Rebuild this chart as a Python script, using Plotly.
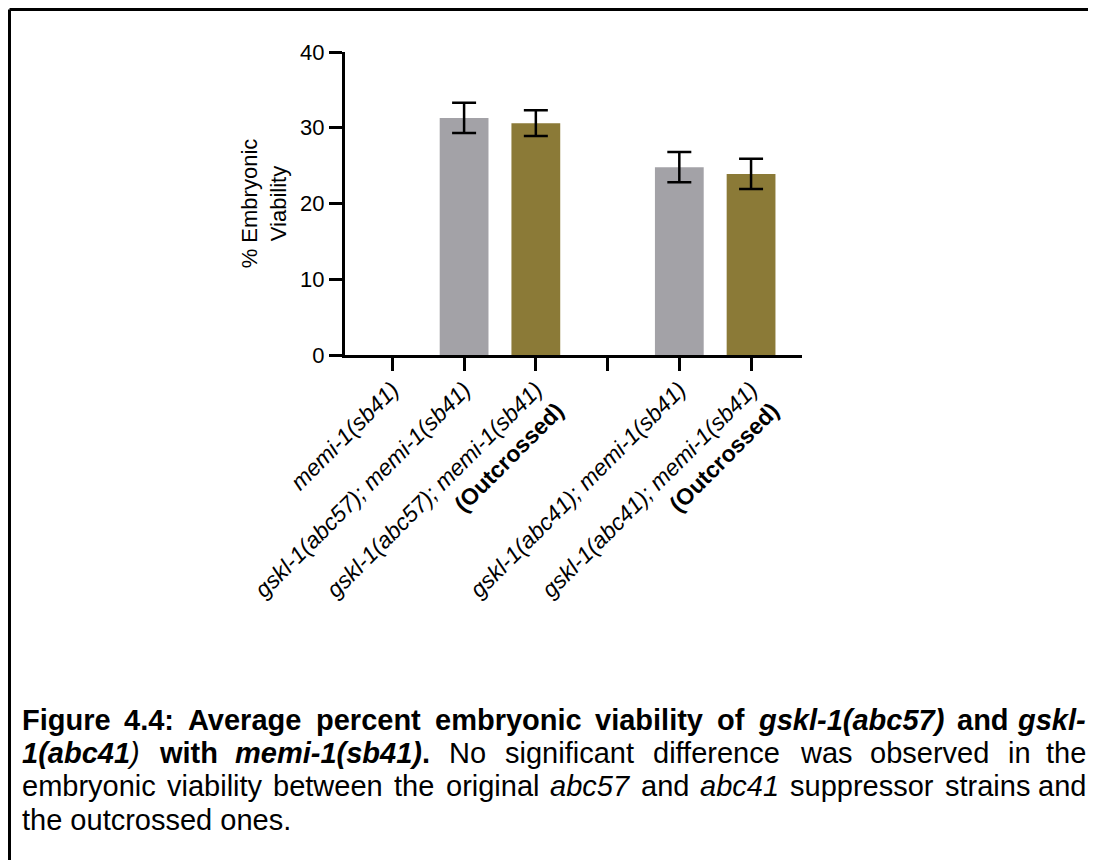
import plotly.graph_objects as go

# ---- data ----
categories = [
    "<i>memi-1(sb41)</i>",
    "<i>gskl-1(abc57); memi-1(sb41)</i>",
    "<i>gskl-1(abc57); memi-1(sb41)</i><br><b>(Outcrossed)</b>",
    "",
    "<i>gskl-1(abc41); memi-1(sb41)</i>",
    "<i>gskl-1(abc41); memi-1(sb41)</i><br><b>(Outcrossed)</b>",
]
positions = [0, 1, 2, 3, 4, 5]
viability = [0, 31.3, 30.6, None, 24.8, 23.9]
errors = [None, 2.0, 1.7, None, 2.0, 2.0]
bar_colors = ["#A3A2A7", "#A3A2A7", "#8B7A37", "#A3A2A7", "#A3A2A7", "#8B7A37"]
y_ticks = [0, 10, 20, 30, 40]

FONT = "Liberation Sans, Arial, sans-serif"

# page is drawn with an 8px body margin
W, H = 1088, 852
L, R, T, B = 337, 294, 44, 505
pw, ph = W - L - R, H - T - B


def px(x):
    return (x - L) / pw


def py(y):
    return (H - B - y) / ph


fig = go.Figure()
fig.add_trace(go.Bar(
    x=positions, y=viability, width=0.68,
    marker=dict(color=bar_colors, line=dict(width=0)),
    showlegend=False, hoverinfo="skip",
))
# error bars only where there is error data
eb_x = [p for p, e in zip(positions, errors) if e is not None]
eb_y = [v for v, e in zip(viability, errors) if e is not None]
eb_e = [e for e in errors if e is not None]
fig.add_trace(go.Scatter(
    x=eb_x, y=eb_y, mode="markers", marker=dict(size=1, color="rgba(0,0,0,0)"),
    error_y=dict(type="data", array=eb_e, visible=True, color="black", thickness=2.5, width=12),
    showlegend=False,
))

fig.update_layout(
    width=W, height=H,
    margin=dict(l=L, r=R, t=T, b=B, pad=0),
    paper_bgcolor="white", plot_bgcolor="white",
    font=dict(family=FONT, color="black"),
    xaxis=dict(
        range=[-0.66, 5.71], tickmode="array", tickvals=positions, ticktext=categories,
        tickangle=-45, ticks="outside", ticklen=13, tickwidth=3, tickcolor="black",
        showline=True, linewidth=3, linecolor="black", showgrid=False, zeroline=False,
        tickfont=dict(family=FONT, size=23, color="black"), ticklabelstandoff=-4,
    ),
    yaxis=dict(
        range=[0, 40], tickmode="array", tickvals=y_ticks,
        ticks="outside", ticklen=13, tickwidth=3, tickcolor="black",
        showline=True, linewidth=3, linecolor="black", showgrid=False, zeroline=False,
        tickfont=dict(family=FONT, size=22, color="black"),
        title=dict(text="% Embryonic<br>Viability", font=dict(family=FONT, size=22, color="black"),
                   standoff=8),
    ),
)

# frame (top and left)
fig.add_shape(type="line", xref="paper", yref="paper", x0=px(1.5), x1=px(W), y0=py(1.5), y1=py(1.5),
              line=dict(color="black", width=3))
fig.add_shape(type="line", xref="paper", yref="paper", x0=px(1.5), x1=px(1.5), y0=py(1.5), y1=py(H),
              line=dict(color="black", width=3))

# ---- caption (justified by word placement using Arial metrics) ----
REG = dict(zip("ABCDEFGHIJKLMNOPQRSTUVWXYZ",
               [667, 667, 722, 722, 667, 611, 778, 722, 278, 500, 667, 556, 833, 722, 778, 667, 778, 722, 667, 611, 722, 667, 944, 667, 667, 611]))
REG.update(zip("abcdefghijklmnopqrstuvwxyz",
               [556, 556, 500, 556, 556, 278, 556, 556, 222, 222, 500, 222, 833, 556, 556, 556, 556, 333, 500, 278, 556, 500, 722, 500, 500, 500]))
REG.update({" ": 278, "(": 333, ")": 333, "-": 333, ".": 278, ":": 278, ";": 278, ",": 278})
REG.update({d: 556 for d in "0123456789"})
BLD = dict(zip("ABCDEFGHIJKLMNOPQRSTUVWXYZ",
               [722, 722, 722, 722, 667, 611, 778, 722, 278, 556, 722, 611, 833, 722, 778, 667, 778, 722, 667, 611, 722, 667, 944, 667, 667, 611]))
BLD.update(zip("abcdefghijklmnopqrstuvwxyz",
               [556, 611, 556, 611, 556, 333, 611, 611, 278, 278, 556, 278, 889, 611, 611, 611, 611, 389, 556, 333, 611, 556, 778, 556, 556, 500]))
BLD.update({" ": 278, "(": 333, ")": 333, "-": 333, ".": 278, ":": 333, ";": 333, ",": 278})
BLD.update({d: 556 for d in "0123456789"})

CAP_SIZE = 29
CAP_X0, CAP_X1 = 12, 1080


def part_width(text, bold):
    table = BLD if bold else REG
    return sum(table.get(c, 556) for c in text) * CAP_SIZE / 1000.0


def part_html(text, bold, italic):
    s = text
    if italic:
        s = "<i>" + s + "</i>"
    if bold:
        s = "<b>" + s + "</b>"
    return s


def words_of(runs):
    words = [[]]
    for text, b, i in runs:
        pieces = text.split(" ")
        for k, p in enumerate(pieces):
            if k > 0:
                words.append([])
            if p:
                words[-1].append((p, b, i))
    return [w for w in words if w]


caption_runs = [
    [("Figure 4.4: Average percent embryonic viability of ", True, False), ("gskl-1(abc57)", True, True),
     (" and ", True, False), ("gskl-", True, True)],
    [("1(abc41", True, True), (")", False, True), (" with ", True, False), ("memi-1(sb41)", True, True),
     (".", True, False), (" No significant difference was observed in the", False, False)],
    [("embryonic viability between the original ", False, False), ("abc57", False, True),
     (" and ", False, False), ("abc41", False, True), (" suppressor strains and", False, False)],
    [("the outcrossed ones.", False, False)],
]
caption_y = [712, 745, 778, 812]
justify = [True, True, True, False]

for runs, yy, just in zip(caption_runs, caption_y, justify):
    if not just:
        html = "".join(part_html(t, b, i) for t, b, i in runs)
        fig.add_annotation(text=html, xref="paper", yref="paper", x=px(CAP_X0), y=py(yy),
                           xanchor="left", yanchor="middle", showarrow=False,
                           font=dict(family=FONT, size=CAP_SIZE, color="black"))
        continue
    words = words_of(runs)
    widths = [sum(part_width(t, b) for t, b, i in w) for w in words]
    gap = (CAP_X1 - CAP_X0 - sum(widths)) / (len(words) - 1)
    xcur = CAP_X0
    for k, (w, wd) in enumerate(zip(words, widths)):
        html = "".join(part_html(t, b, i) for t, b, i in w)
        last = k == len(words) - 1
        fig.add_annotation(text=html, xref="paper", yref="paper",
                           x=px(CAP_X1 if last else xcur), y=py(yy),
                           xanchor="right" if last else "left", yanchor="middle", showarrow=False,
                           font=dict(family=FONT, size=CAP_SIZE, color="black"))
        xcur += wd + gap

fig.write_html("out.html")
